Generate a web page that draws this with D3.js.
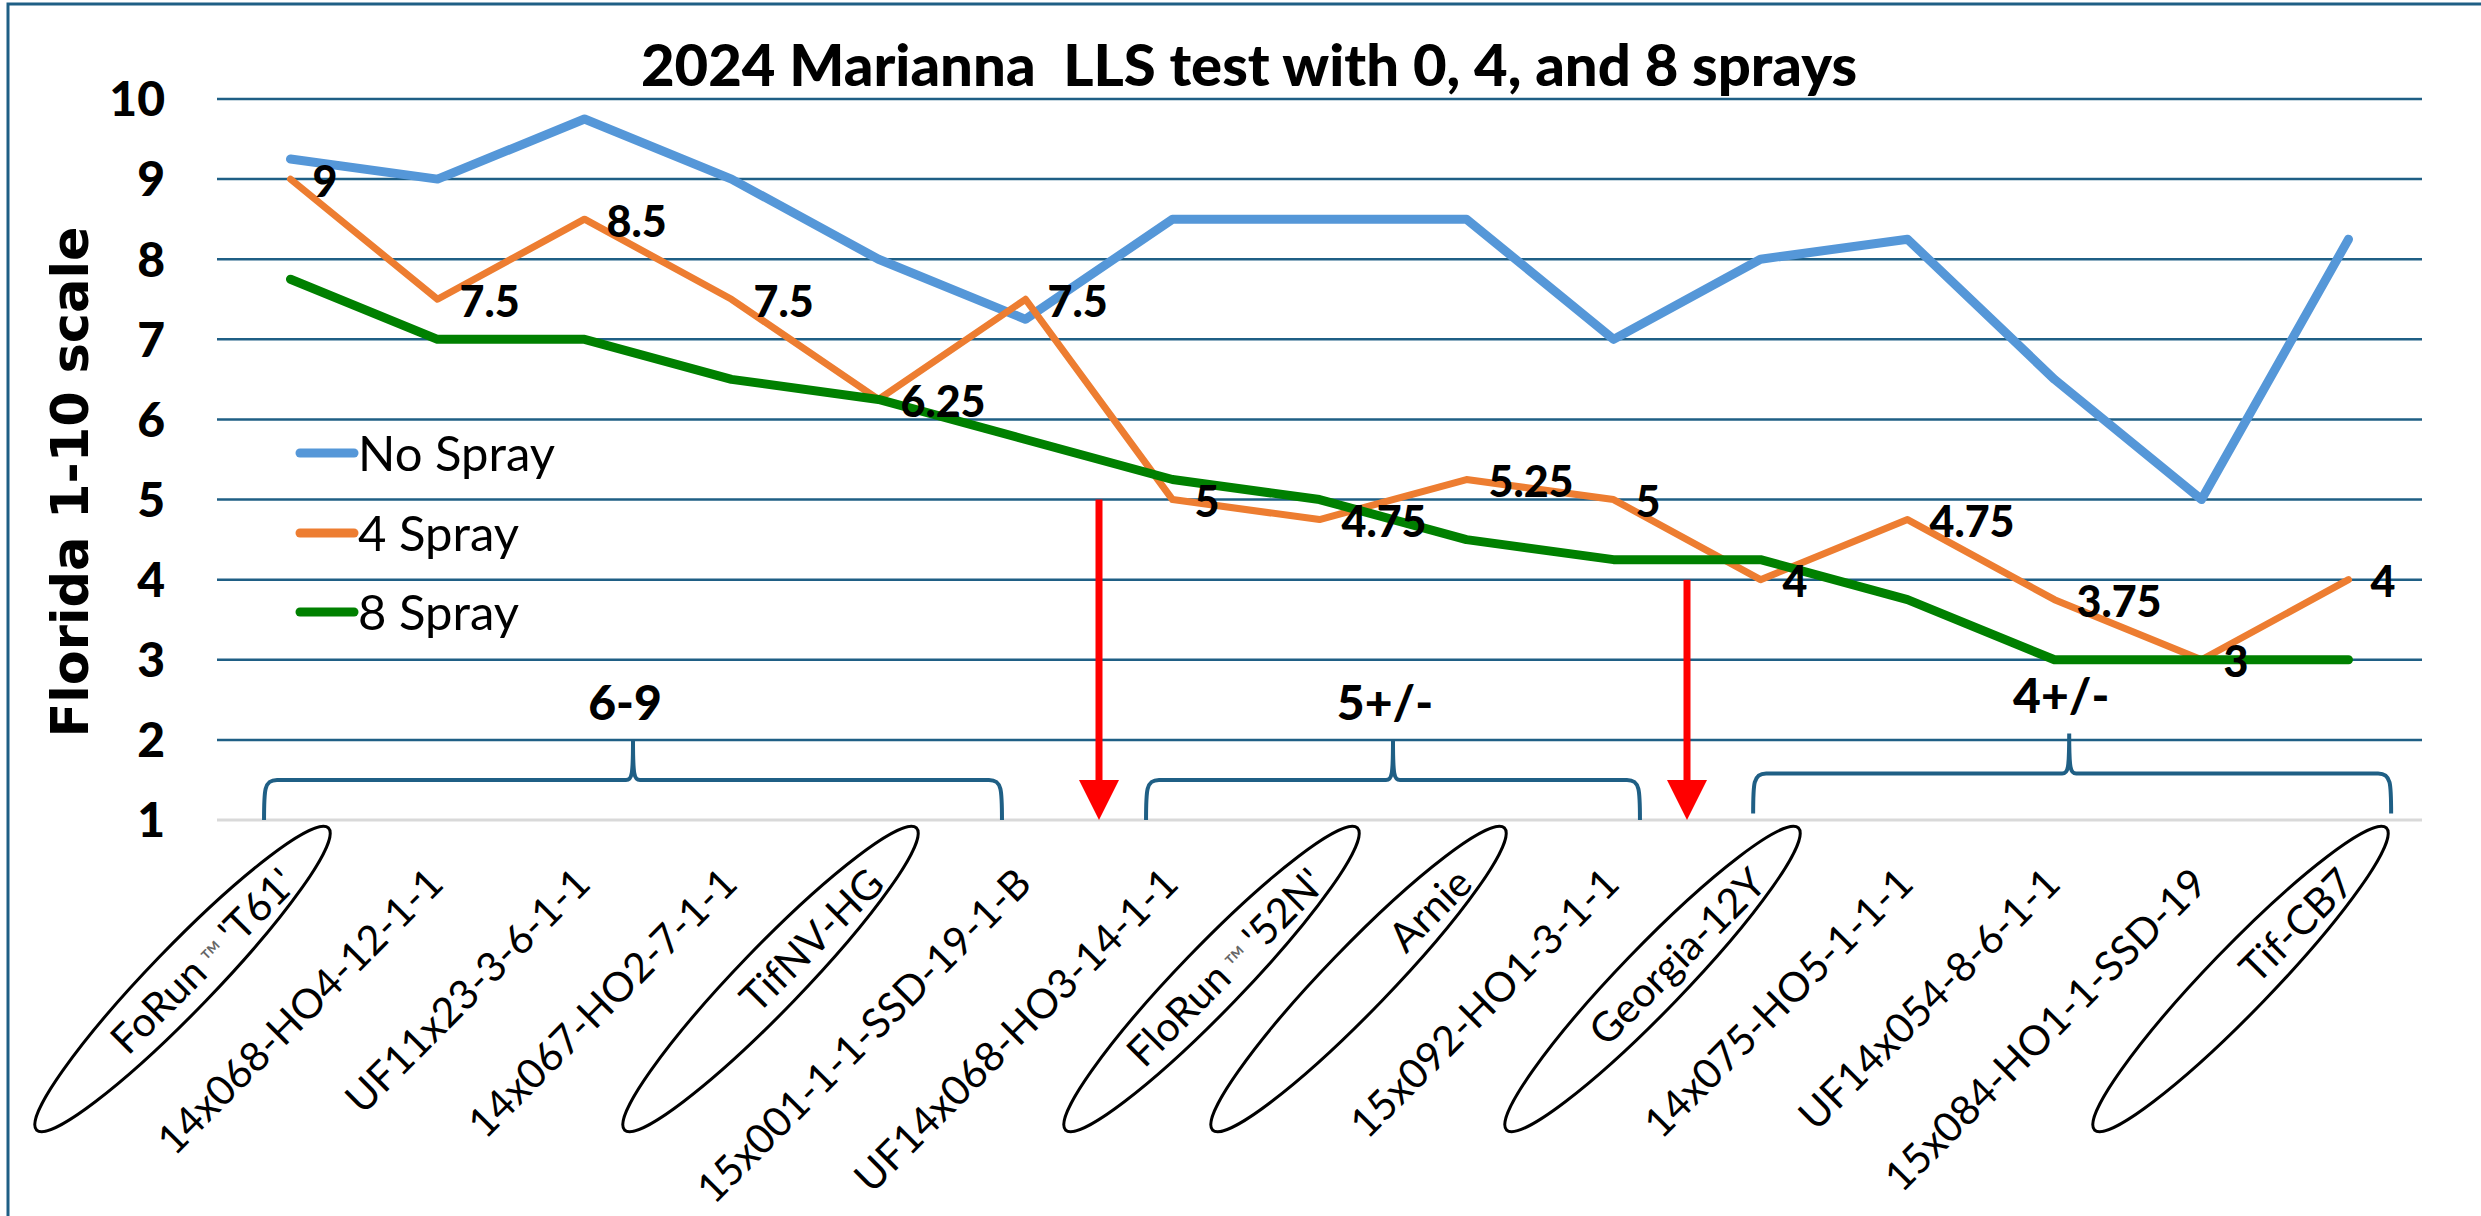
<!DOCTYPE html>
<html>
<head>
<meta charset="utf-8">
<script src="https://cdn.jsdelivr.net/npm/d3@7"></script>
<style>
  body { margin: 0; background: #fff; }
</style>
</head>
<body>
<script>
"use strict";

// DATA
const categories = [
  "FoRun™ 'T61'", "14x068-HO4-12-1-1", "UF11x23-3-6-1-1", "14x067-HO2-7-1-1",
  "TifNV-HG", "15x001-1-1-SSD-19-1-B", "UF14x068-HO3-14-1-1", "FloRun™ '52N'",
  "Arnie", "15x092-HO1-3-1-1", "Georgia-12Y", "14x075-HO5-1-1-1",
  "UF14x054-8-6-1-1", "15x084-HO1-1-SSD-19", "Tif-CB7"
];
const noSpray = [9.25, 9, 9.75, 9, 8, 7.25, 8.5, 8.5, 8.5, 7, 8, 8.25, 6.5, 5, 8.25];
const spray4 = [9, 7.5, 8.5, 7.5, 6.25, 7.5, 5, 4.75, 5.25, 5, 4, 4.75, 3.75, 3, 4];
const spray8 = [7.75, 7, 7, 6.5, 6.25, 5.75, 5.25, 5, 4.5, 4.25, 4.25, 3.75, 3, 3, 3];
const seriesNames = ["No Spray", "4 Spray", "8 Spray"];
const yTicks = [1, 2, 3, 4, 5, 6, 7, 8, 9, 10];

// checks (circled entries)
const circled = ["FoRun™ 'T61'", "TifNV-HG", "FloRun™ '52N'", "Arnie", "Georgia-12Y", "Tif-CB7"];

// rating groups (brace spans in category-index units, level on the y scale)
const groupLabels = ["6-9", "5+/-", "4+/-"];
const groupFrom = [-0.18, 5.82, 9.95];
const groupTo = [4.84, 9.18, 14.29];
const groupPeak = [2.33, 7.5, 12.1];
const groupLevel = [1.5, 1.5, 1.58];

// red arrows (between categories, starting value)
const arrowAt = [5.5, 9.5];
const arrowFrom = [5, 4];

// LAYOUT
const width = 2481;
const height = 1216;
const margin = { top: 99, right: 59, bottom: 396, left: 217 };

const colors = ["#5597d8", "#ed7d31", "#008000"];
const widths = [9, 7, 9];
const gridColor = "#1f5f85";
const numFont = "Lato, 'Open Sans', sans-serif";

const svg = d3
  .select("body")
  .append("svg")
  .attr("width", width)
  .attr("height", height);

// outer chart border
svg
  .append("rect")
  .attr("x", 8)
  .attr("y", 4)
  .attr("width", width + 20)
  .attr("height", height + 20)
  .attr("fill", "none")
  .attr("stroke", gridColor)
  .attr("stroke-width", 3);

const x = d3
  .scalePoint(categories, [margin.left, width - margin.right])
  .padding(0.5);
const xi = d3
  .scaleLinear()
  .domain([0, categories.length - 1])
  .range([x(categories[0]), x(categories[categories.length - 1])]);
const y = d3.scaleLinear([1, 10], [height - margin.bottom, margin.top]);

// TITLE
svg
  .append("text")
  .attr("x", 1249)
  .attr("y", 86)
  .attr("text-anchor", "middle")
  .attr("font-family", numFont)
  .attr("font-weight", 900)
  .attr("font-size", 58)
  .style("white-space", "pre")
  .text("2024 Marianna  LLS test with 0, 4, and 8 sprays");

// GRIDLINES + Y AXIS
svg
  .append("g")
  .selectAll("line")
  .data(yTicks.filter((d) => d > 1))
  .join("line")
  .attr("x1", margin.left)
  .attr("x2", width - margin.right)
  .attr("y1", (d) => y(d))
  .attr("y2", (d) => y(d))
  .attr("stroke", gridColor)
  .attr("stroke-width", 2.5);

svg
  .append("line")
  .attr("x1", margin.left)
  .attr("x2", width - margin.right)
  .attr("y1", y(1))
  .attr("y2", y(1))
  .attr("stroke", "#d9d9d9")
  .attr("stroke-width", 3);

svg
  .append("g")
  .attr("font-family", numFont)
  .attr("font-weight", 900)
  .attr("font-size", 48)
  .attr("text-anchor", "end")
  .selectAll("text")
  .data(yTicks)
  .join("text")
  .attr("x", 165)
  .attr("y", (d) => y(d))
  .attr("dy", "0.36em")
  .text((d) => d);

svg
  .append("text")
  .attr("transform", "translate(88,482) rotate(-90)")
  .attr("text-anchor", "middle")
  .attr("font-family", "'DejaVu Sans', Verdana, sans-serif")
  .attr("font-weight", "bold")
  .attr("font-size", 51)
  .text("Florida 1-10 scale");

// BRACES + GROUP LABELS
const brace = (x0, x1, xp, yb, yt, ye) => {
  const r = 10;
  return `M${x0},${ye} C${x0},${yb + r} ${x0},${yb} ${x0 + r + 3},${yb}
    L${xp - 7},${yb} C${xp - 1},${yb} ${xp},${yb - 5} ${xp},${yt}
    C${xp},${yb - 5} ${xp + 1},${yb} ${xp + 7},${yb}
    L${x1 - r - 3},${yb} C${x1},${yb} ${x1},${yb + r} ${x1},${ye}`;
};

svg
  .append("g")
  .selectAll("g")
  .data(groupLabels)
  .join("g")
  .call((g) =>
    g
      .append("path")
      .attr("d", (d, i) =>
        brace(
          xi(groupFrom[i]),
          xi(groupTo[i]),
          xi(groupPeak[i]),
          y(groupLevel[i]),
          y(groupLevel[i] + 0.5),
          y(groupLevel[i] - 0.5)
        )
      )
      .attr("fill", "none")
      .attr("stroke", gridColor)
      .attr("stroke-width", 4)
  )
  .call((g) =>
    g
      .append("text")
      .attr("x", (d, i) => xi(groupPeak[i]) - 8)
      .attr("y", (d, i) => y(groupLevel[i] + 0.5) - 20)
      .attr("text-anchor", "middle")
      .attr("font-family", numFont)
      .attr("font-weight", 900)
      .attr("font-size", 48)
      .text((d) => d)
  );

// RED ARROWS
svg
  .append("g")
  .selectAll("g")
  .data(arrowAt)
  .join("g")
  .call((g) =>
    g
      .append("line")
      .attr("x1", (d) => xi(d))
      .attr("x2", (d) => xi(d))
      .attr("y1", (d, i) => y(arrowFrom[i]))
      .attr("y2", y(1) - 38)
      .attr("stroke", "#ff0000")
      .attr("stroke-width", 7)
  )
  .call((g) =>
    g
      .append("path")
      .attr(
        "d",
        (d) =>
          `M${xi(d) - 20},${y(1) - 40} L${xi(d) + 20},${y(1) - 40} L${xi(d)},${y(1)} Z`
      )
      .attr("fill", "#ff0000")
  );

// SERIES LINES
const series = [noSpray, spray4, spray8];
const line = d3
  .line()
  .x((d, i) => x(categories[i]))
  .y((d) => y(d));

svg
  .append("g")
  .selectAll("path")
  .data(series)
  .join("path")
  .attr("d", line)
  .attr("fill", "none")
  .attr("stroke", (d, i) => colors[i])
  .attr("stroke-width", (d, i) => widths[i])
  .attr("stroke-linejoin", "round")
  .attr("stroke-linecap", "round");

// DATA LABELS (4 Spray)
svg
  .append("g")
  .attr("font-family", numFont)
  .attr("font-weight", 900)
  .attr("font-size", 43)
  .selectAll("text")
  .data(spray4)
  .join("text")
  .attr("x", (d, i) => x(categories[i]) + 22)
  .attr("y", (d) => y(d) + 2)
  .attr("dy", "0.36em")
  .text((d) => d);

// LEGEND
svg
  .append("g")
  .selectAll("g")
  .data(seriesNames)
  .join("g")
  .attr("transform", (d, i) => `translate(300,${[453, 533, 612][i]})`)
  .call((g) =>
    g
      .append("line")
      .attr("x1", 0)
      .attr("x2", 54)
      .attr("stroke", (d, i) => colors[i])
      .attr("stroke-width", 9)
      .attr("stroke-linecap", "round")
  )
  .call((g) =>
    g
      .append("text")
      .attr("x", 58)
      .attr("dy", "0.36em")
      .attr("font-family", numFont)
      .attr("font-size", 49)
      .text((d) => d)
  );

// CATEGORY LABELS (rotated) + ellipses
const labelY = y(1) + 66;

svg
  .append("g")
  .selectAll("ellipse")
  .data(circled)
  .join("ellipse")
  .attr("transform", (d) => `translate(${x(d) - 108},979) rotate(-46)`)
  .attr("rx", 210)
  .attr("ry", 32)
  .attr("fill", "none")
  .attr("stroke", "#000")
  .attr("stroke-width", 3);

svg
  .append("g")
  .attr("font-family", numFont)
  .attr("font-size", 41)
  .selectAll("text")
  .data(categories)
  .join("text")
  .attr("text-anchor", "end")
  .attr("transform", (d) => `translate(${x(d) + 8},${labelY}) rotate(-45)`)
  .each(function (d) {
    const t = d3.select(this);
    const parts = d.split("™");
    t.append("tspan").text(parts[0]);
    if (parts.length > 1) {
      t.append("tspan")
        .attr("fill", "#666")
        .attr("font-size", 30)
        .style("white-space", "pre")
        .text(" ™ ");
      t.append("tspan").text(parts[1].trim());
    }
  });
</script>
</body>
</html>
